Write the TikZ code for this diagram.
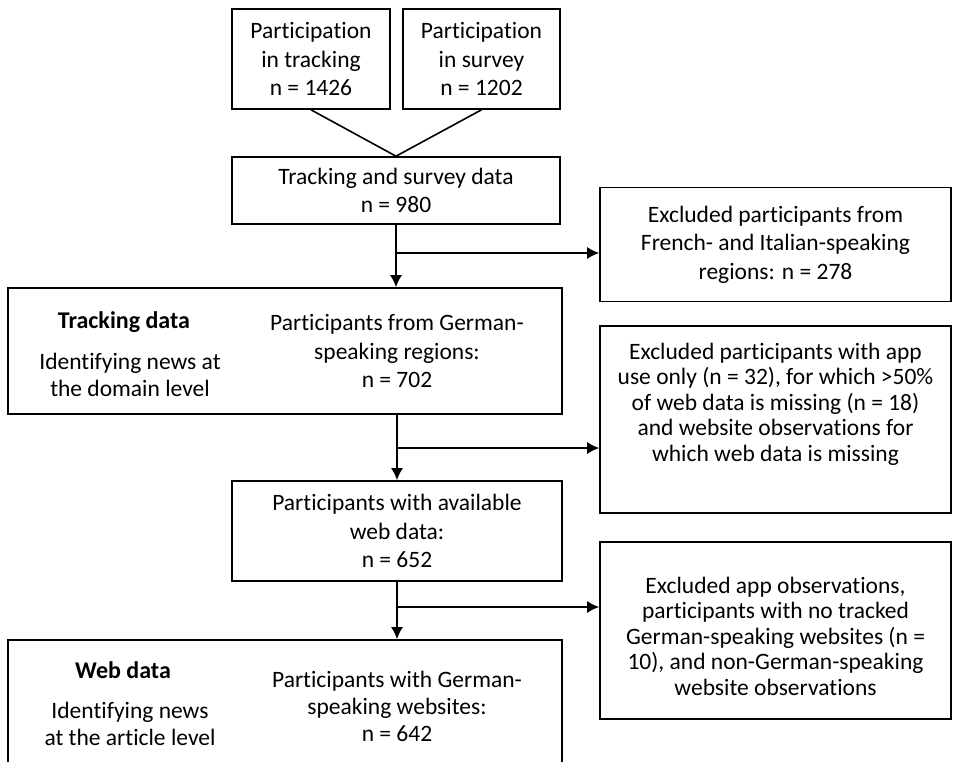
\documentclass[tikz,border=0pt]{standalone}
\usepackage{fontspec}
\setmainfont{Carlito}[Ligatures=NoCommon]
\usetikzlibrary{arrows.meta, positioning}

\begin{document}
\begin{tikzpicture}[x=1pt, y=-1pt]
	\tikzset{
		box/.style={rectangle, draw, line width=1.6pt, black, fill=white, align=center,
			font=\fontsize{23.5}{28.5}\selectfont, inner sep=0pt},
		tighttext/.style={align=center, font=\fontsize{23.5}{25.5}\selectfont, inner sep=0pt},
		notetext/.style={align=center, font=\fontsize{23.5}{27}\selectfont, inner sep=0pt},
		headtext/.style={align=center, font=\fontsize{24}{28}\selectfont\bfseries, inner sep=0pt},
		arr/.style={-{Latex[length=12pt, width=12pt]}, line width=1.6pt},
		link/.style={line width=1.6pt}
	}
	\useasboundingbox (0,0) rectangle (955,761);

	% sources
	\node[box, minimum width=158pt, minimum height=100pt](tracking) at (311,59){Participation\\in tracking\\n = 1426};
	\node[box, minimum width=157pt, minimum height=100pt](survey) at (481.5,59){Participation\\in survey\\n = 1202};
	\node[box, minimum width=328pt, minimum height=67pt](combined) at (396,190.5){Tracking and survey data\\n = 980};

	% main column
	\node[box, minimum width=554pt, minimum height=126pt](german) at (285,351){};
	\node[headtext](trackhead) at (124,322){Tracking data};
	\node[notetext](tracknote) at (130,375){Identifying news at\\the domain level};
	\node[box, draw=none, fill=none](germantext) at (397,351){Participants from German-\\speaking regions:\\n = 702};

	\node[box, minimum width=330pt, minimum height=100pt](webavail) at (397,531){Participants with available\\web data:\\n = 652};

	\node[box, minimum width=554pt, minimum height=160pt](websites) at (285,720){};
	\node[headtext](webhead) at (123,670){Web data};
	\node[notetext](webnote) at (130,724){Identifying news\\at the article level};
	\node[notetext](webtext) at (397,706){Participants with German-\\speaking websites:\\n = 642};

	% exclusions
	\node[box, minimum width=351pt, minimum height=114pt](exclregion) at (775.5,244.5){Excluded participants from\\French- and Italian-speaking\\regions: n = 278};
	\node[box, minimum width=351pt, minimum height=187pt](exclapp) at (775.5,419.5){};
	\node[tighttext](exclapptext) at (775.5,404){Excluded participants with app\\use only (n = 32), for which >50\%\\of web data is missing (n = 18)\\and website observations for\\which web data is missing};
	\node[box, minimum width=351pt, minimum height=177pt](exclweb) at (775.5,630.5){};
	\node[tighttext](exclwebtext) at (775.5,636){Excluded app observations,\\participants with no tracked\\German-speaking websites (n =\\10), and non-German-speaking\\website observations};

	\coordinate(fork1) at (397,253);
	\coordinate(fork2) at (397,448);
	\coordinate(fork3) at (397,607);

	\draw[link](tracking.south) -- (combined.north);
	\draw[link](survey.south) -- (combined.north);
	\draw[arr](combined.south) -- (combined.south |- german.north);
	\draw[arr](fork1) -- (fork1 -| exclregion.west);
	\draw[arr](fork2 |- german.south) -- (webavail.north);
	\draw[arr](fork2) -- (fork2 -| exclapp.west);
	\draw[arr](webavail.south) -- (webavail.south |- websites.north);
	\draw[arr](fork3) -- (fork3 -| exclweb.west);
\end{tikzpicture}
\end{document}
